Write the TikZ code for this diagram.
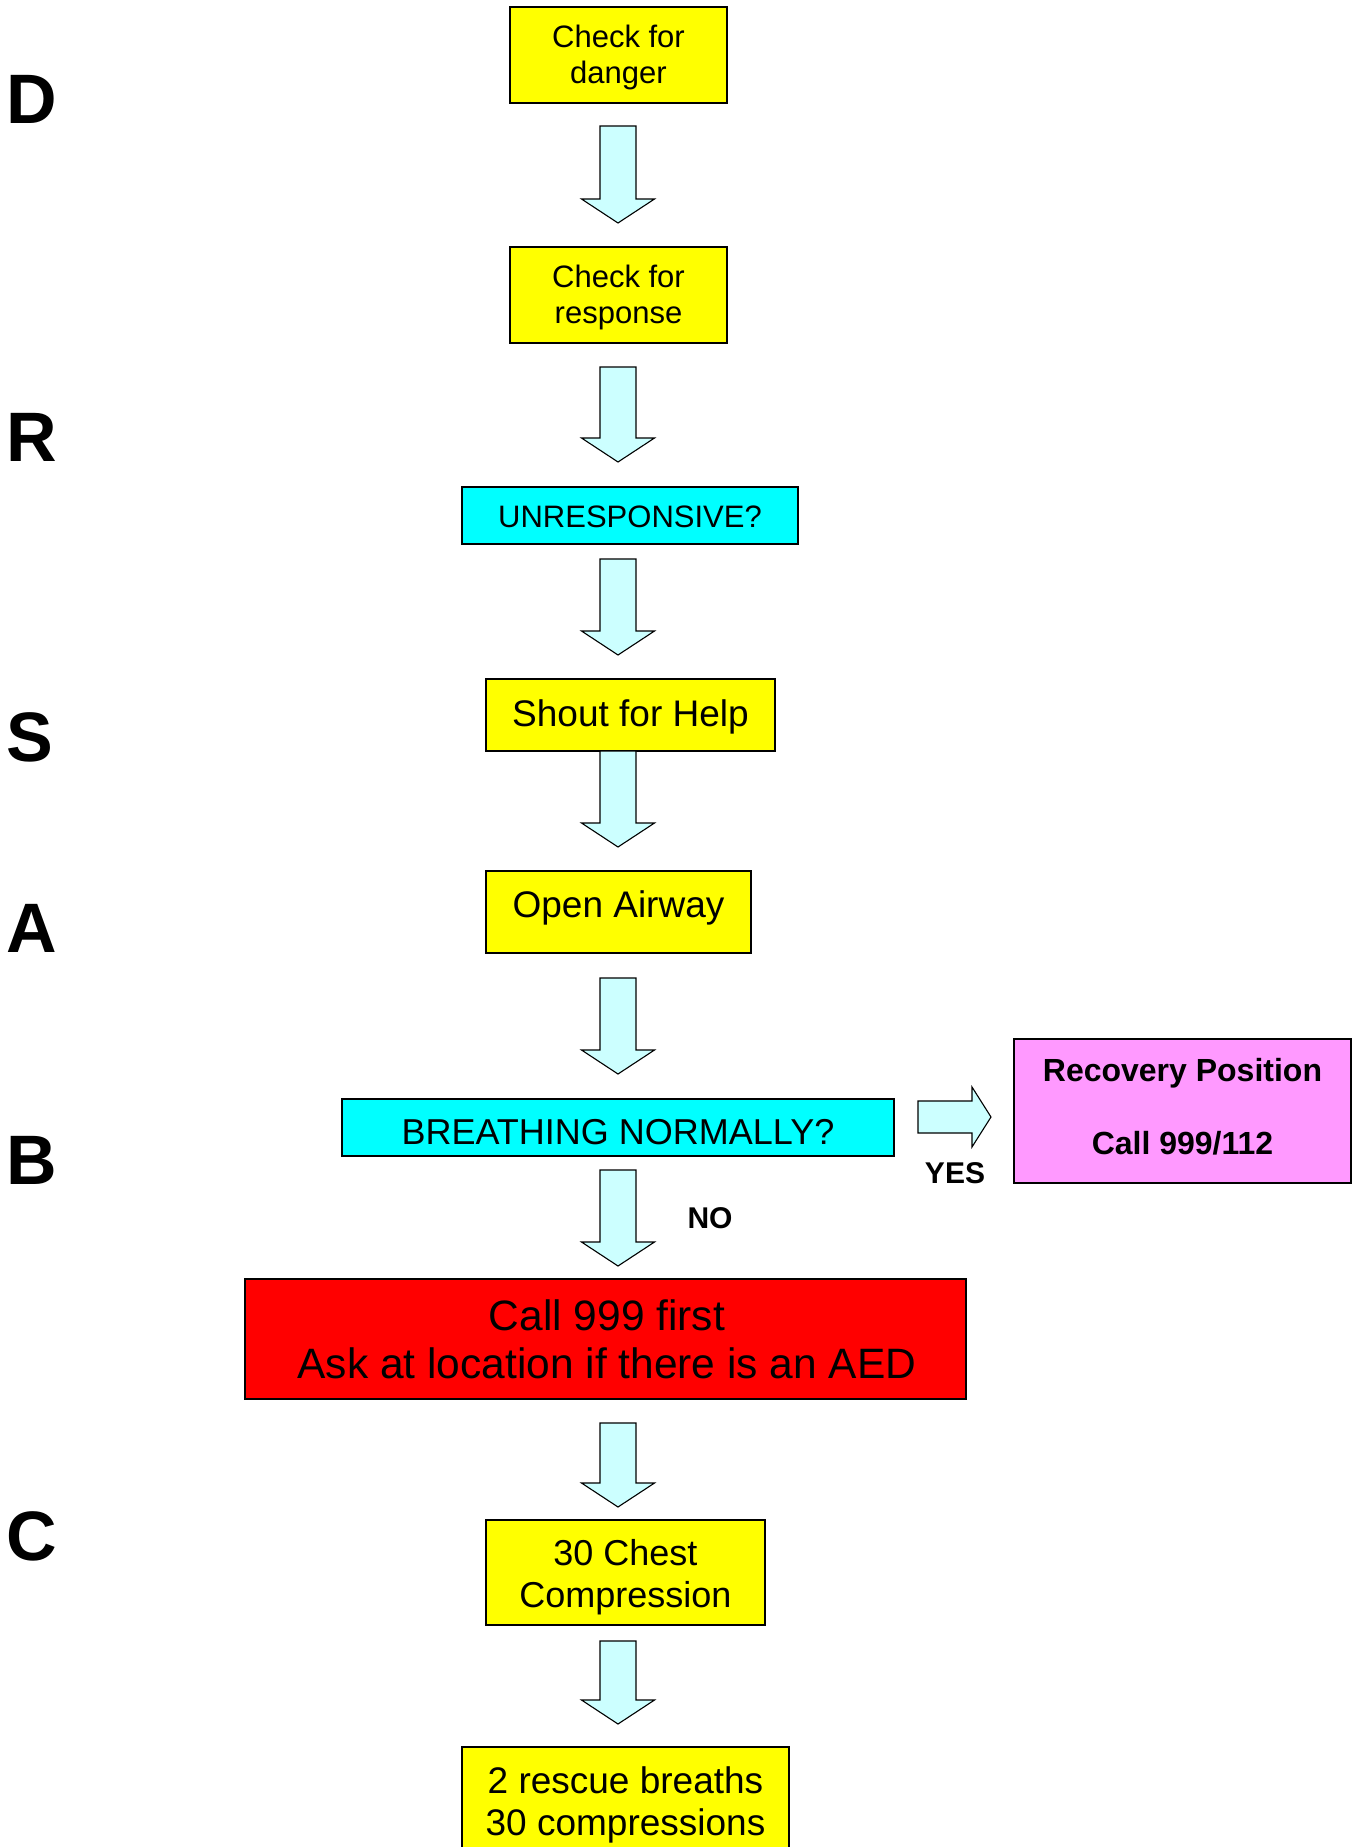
\documentclass[tikz,border=0pt]{standalone}
\usepackage{fontspec}
\setmainfont{Liberation Sans}
\definecolor{yel}{HTML}{FFFF00}
\definecolor{cyn}{HTML}{00FFFF}
\definecolor{redbox}{HTML}{FF0000}
\definecolor{pinkbox}{HTML}{FF99FF}
\definecolor{arrfill}{HTML}{CCFFFF}
\tikzset{
  box/.style={draw=black, line width=1.4pt, inner sep=0pt},
  ybox/.style={box, fill=yel},
  cbox/.style={box, fill=cyn},
  txt/.style={inner sep=0pt, align=center},
  arr/.style={draw=black, line width=1.1pt, fill=arrfill, line join=miter},
  letter/.style={inner sep=0pt, font=\fontsize{70}{70}\selectfont\bfseries},
  lbl/.style={inner sep=0pt, font=\fontsize{30}{30}\selectfont\bfseries},
  pics/downarr/.style={code={
    \draw[arr] (-18,0) -- (18,0) -- (18,#1-24) -- (36.5,#1-24) -- (0,#1)
      -- (-36.5,#1-24) -- (-18,#1-24) -- cycle;}},
  pics/rightarr/.style={code={
    \draw[arr] (0,-16) -- (#1-19,-16) -- (#1-19,-30) -- (#1,0)
      -- (#1-19,30) -- (#1-19,16) -- (0,16) -- cycle;}}
}
\begin{document}
\begin{tikzpicture}[x=1pt,y=-1pt]
\clip (0,0) rectangle (1357,1847);
\fill[white] (0,0) rectangle (1357,1847);

% side letters
\node[letter] (lD) at (32,99) {D};
\node[letter] (lR) at (32,437) {R};
\node[letter] (lS) at (30,737) {S};
\node[letter] (lA) at (32,928) {A};
\node[letter] (lB) at (32,1160) {B};
\node[letter] (lC) at (32,1536) {C};

% boxes
\node[ybox, minimum width=217, minimum height=96] (danger) at (618.5,55) {};
\node[txt, font=\fontsize{31}{36}\selectfont] (tdanger)
  at ([yshift=-2.5pt]danger.center) {Check for\\danger};

\node[ybox, minimum width=217, minimum height=96] (response) at (618.5,295) {};
\node[txt, font=\fontsize{31}{36}\selectfont] (tresponse)
  at ([yshift=-2.5pt]response.center) {Check for\\response};

\node[cbox, minimum width=336, minimum height=57] (unresp) at (630,515.5) {};
\node[txt, font=\fontsize{31}{36}\selectfont] (tunresp)
  at ([yshift=-1pt]unresp.center) {UNRESPONSIVE?};

\node[ybox, minimum width=289, minimum height=72] (shout) at (630.5,715) {};
\node[txt, font=\fontsize{37}{42}\selectfont] (tshout)
  at ([yshift=-1.5pt]shout.center) {Shout for Help};

\node[ybox, minimum width=265, minimum height=82] (airway) at (618.5,912) {};
\node[txt, font=\fontsize{37}{42}\selectfont] (tairway)
  at ([yshift=4.5pt]airway.center) {Open Airway};

\node[cbox, minimum width=552, minimum height=57] (breath) at (618,1127.5) {};
\node[txt, font=\fontsize{36}{42}\selectfont] (tbreath)
  at ([yshift=-5pt]breath.center) {BREATHING NORMALLY?};

\node[box, fill=pinkbox, minimum width=337, minimum height=144] (recov) at (1182.5,1111) {};
\node[txt, font=\fontsize{32}{73}\selectfont\bfseries] (trecov)
  at ([yshift=4.5pt]recov.center) {Recovery Position\\Call 999/112};

\node[box, fill=redbox, minimum width=721, minimum height=120] (call) at (605.5,1339) {};
\node[txt, font=\fontsize{42.5}{48}\selectfont] (tcall)
  at ([xshift=1.5pt]call.center) {Call 999 first\\Ask at location if there is an AED};

\node[ybox, minimum width=279, minimum height=105] (chest) at (625.5,1572.5) {};
\node[txt, font=\fontsize{36}{42}\selectfont] (tchest)
  at ([yshift=-5pt]chest.center) {30 Chest\\Compression};

\node[ybox, minimum width=327, minimum height=112] (rescue) at (625.5,1803) {};
\node[txt, font=\fontsize{37}{42}\selectfont] (trescue)
  at ([yshift=-2pt]rescue.center) {2 rescue breaths\\30 compressions};

% labels
\node[lbl] (yes) at (955,1173) {YES};
\node[lbl] (no) at (710,1218) {NO};

% block arrows
\pic (a1) at (618,126) {downarr=97};
\pic (a2) at (618,367) {downarr=95};
\pic (a3) at (618,559) {downarr=96};
\pic (a4) at (618,751) {downarr=96};
\pic (a5) at (618,978) {downarr=96};
\pic (a6) at (618,1170) {downarr=96};
\pic (a7) at (618,1423) {downarr=84};
\pic (a8) at (618,1641) {downarr=83};
\pic (ar) at (918,1117) {rightarr=73};
\end{tikzpicture}
\end{document}
